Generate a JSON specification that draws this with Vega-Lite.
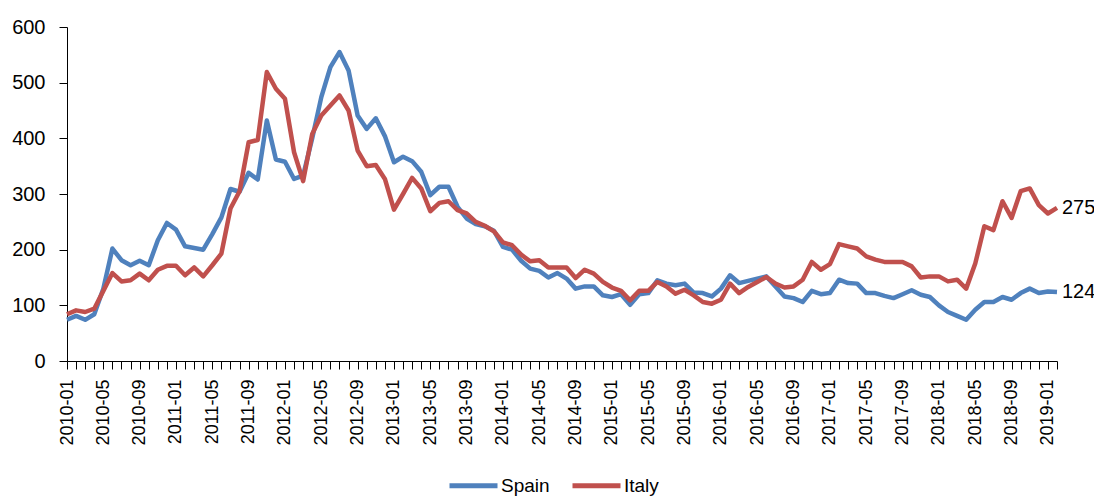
{
  "$schema": "https://vega.github.io/schema/vega-lite/v6.json",
  "autosize": {"type": "none"},
  "padding": {"left": 67, "top": 27, "right": 37, "bottom": 135},
  "width": 990,
  "height": 334,
  "background": "white",
  "config": {
    "view": {"stroke": null},
    "font": "Liberation Sans",
    "axis": {"domainColor": "black", "tickColor": "black", "labelColor": "black", "grid": false, "title": null}
  },
  "data": {"values": [
    {"date":"2010-01","Spain":74,"Italy":84},{"date":"2010-02","Spain":81,"Italy":91},{"date":"2010-03","Spain":74,"Italy":88},{"date":"2010-04","Spain":84,"Italy":94},
    {"date":"2010-05","Spain":130,"Italy":126},{"date":"2010-06","Spain":202,"Italy":158},{"date":"2010-07","Spain":181,"Italy":143},{"date":"2010-08","Spain":172,"Italy":145},
    {"date":"2010-09","Spain":180,"Italy":157},{"date":"2010-10","Spain":172,"Italy":145},{"date":"2010-11","Spain":217,"Italy":164},{"date":"2010-12","Spain":248,"Italy":171},
    {"date":"2011-01","Spain":236,"Italy":171},{"date":"2011-02","Spain":206,"Italy":154},{"date":"2011-03","Spain":203,"Italy":168},{"date":"2011-04","Spain":200,"Italy":152},
    {"date":"2011-05","Spain":228,"Italy":172},{"date":"2011-06","Spain":258,"Italy":193},{"date":"2011-07","Spain":309,"Italy":274},{"date":"2011-08","Spain":304,"Italy":305},
    {"date":"2011-09","Spain":338,"Italy":393},{"date":"2011-10","Spain":326,"Italy":397},{"date":"2011-11","Spain":432,"Italy":519},{"date":"2011-12","Spain":362,"Italy":489},
    {"date":"2012-01","Spain":358,"Italy":471},{"date":"2012-02","Spain":327,"Italy":375},{"date":"2012-03","Spain":333,"Italy":323},{"date":"2012-04","Spain":400,"Italy":408},
    {"date":"2012-05","Spain":474,"Italy":441},{"date":"2012-06","Spain":528,"Italy":459},{"date":"2012-07","Spain":555,"Italy":477},{"date":"2012-08","Spain":522,"Italy":450},
    {"date":"2012-09","Spain":441,"Italy":378},{"date":"2012-10","Spain":417,"Italy":350},{"date":"2012-11","Spain":436,"Italy":352},{"date":"2012-12","Spain":404,"Italy":327},
    {"date":"2013-01","Spain":357,"Italy":272},{"date":"2013-02","Spain":367,"Italy":300},{"date":"2013-03","Spain":359,"Italy":329},{"date":"2013-04","Spain":340,"Italy":310},
    {"date":"2013-05","Spain":298,"Italy":269},{"date":"2013-06","Spain":313,"Italy":284},{"date":"2013-07","Spain":313,"Italy":287},{"date":"2013-08","Spain":277,"Italy":271},
    {"date":"2013-09","Spain":256,"Italy":265},{"date":"2013-10","Spain":246,"Italy":250},{"date":"2013-11","Spain":242,"Italy":243},{"date":"2013-12","Spain":234,"Italy":233},
    {"date":"2014-01","Spain":205,"Italy":213},{"date":"2014-02","Spain":200,"Italy":208},{"date":"2014-03","Spain":180,"Italy":191},{"date":"2014-04","Spain":166,"Italy":179},
    {"date":"2014-05","Spain":162,"Italy":181},{"date":"2014-06","Spain":150,"Italy":168},{"date":"2014-07","Spain":158,"Italy":168},{"date":"2014-08","Spain":148,"Italy":168},
    {"date":"2014-09","Spain":130,"Italy":149},{"date":"2014-10","Spain":134,"Italy":164},{"date":"2014-11","Spain":134,"Italy":157},{"date":"2014-12","Spain":118,"Italy":142},
    {"date":"2015-01","Spain":115,"Italy":132},{"date":"2015-02","Spain":120,"Italy":126},{"date":"2015-03","Spain":101,"Italy":109},{"date":"2015-04","Spain":120,"Italy":126},
    {"date":"2015-05","Spain":122,"Italy":126},{"date":"2015-06","Spain":145,"Italy":142},{"date":"2015-07","Spain":139,"Italy":134},{"date":"2015-08","Spain":136,"Italy":121},
    {"date":"2015-09","Spain":139,"Italy":128},{"date":"2015-10","Spain":123,"Italy":118},{"date":"2015-11","Spain":122,"Italy":106},{"date":"2015-12","Spain":116,"Italy":103},
    {"date":"2016-01","Spain":130,"Italy":110},{"date":"2016-02","Spain":154,"Italy":139},{"date":"2016-03","Spain":140,"Italy":122},{"date":"2016-04","Spain":144,"Italy":133},
    {"date":"2016-05","Spain":148,"Italy":142},{"date":"2016-06","Spain":152,"Italy":151},{"date":"2016-07","Spain":134,"Italy":139},{"date":"2016-08","Spain":116,"Italy":132},
    {"date":"2016-09","Spain":113,"Italy":134},{"date":"2016-10","Spain":106,"Italy":146},{"date":"2016-11","Spain":126,"Italy":178},{"date":"2016-12","Spain":120,"Italy":164},
    {"date":"2017-01","Spain":122,"Italy":174},{"date":"2017-02","Spain":146,"Italy":210},{"date":"2017-03","Spain":140,"Italy":206},{"date":"2017-04","Spain":139,"Italy":202},
    {"date":"2017-05","Spain":122,"Italy":188},{"date":"2017-06","Spain":122,"Italy":182},{"date":"2017-07","Spain":117,"Italy":178},{"date":"2017-08","Spain":113,"Italy":178},
    {"date":"2017-09","Spain":120,"Italy":178},{"date":"2017-10","Spain":127,"Italy":170},{"date":"2017-11","Spain":119,"Italy":150},{"date":"2017-12","Spain":115,"Italy":152},
    {"date":"2018-01","Spain":100,"Italy":152},{"date":"2018-02","Spain":88,"Italy":143},{"date":"2018-03","Spain":81,"Italy":146},{"date":"2018-04","Spain":74,"Italy":130},
    {"date":"2018-05","Spain":92,"Italy":175},{"date":"2018-06","Spain":106,"Italy":242},{"date":"2018-07","Spain":106,"Italy":235},{"date":"2018-08","Spain":115,"Italy":287},
    {"date":"2018-09","Spain":110,"Italy":257},{"date":"2018-10","Spain":122,"Italy":305},{"date":"2018-11","Spain":130,"Italy":310},{"date":"2018-12","Spain":122,"Italy":280},
    {"date":"2019-01","Spain":125,"Italy":265},{"date":"2019-02","Spain":124,"Italy":275}
  ]},
  "transform": [{"fold": ["Spain", "Italy"], "as": ["country", "value"]}],
  "encoding": {
    "x": {
      "field": "date", "type": "ordinal",
      "scale": {"type": "point", "padding": 0},
      "axis": {
        "labelAngle": -90, "labelAlign": "right", "labelBaseline": "middle",
        "labelFontSize": 18, "labelFont": "Liberation Sans",
        "tickSize": 8, "labelPadding": 10, "labelOverlap": false, "labelFlush": false,
        "labelExpr": "indexof(['01','05','09'], substring(datum.label, 5, 7)) >= 0 ? datum.label : ''"
      }
    },
    "y": {
      "field": "value", "type": "quantitative",
      "scale": {"domain": [0, 600], "nice": false},
      "axis": {"values": [0,100,200,300,400,500,600], "tickSize": 8, "labelPadding": 14, "labelFontSize": 20, "labelFont": "Liberation Sans", "format": "d"}
    }
  },
  "layer": [
    {
      "mark": {"type": "line", "strokeWidth": 4.5, "strokeJoin": "round"},
      "encoding": {
        "color": {
          "field": "country", "type": "nominal",
          "scale": {"domain": ["Spain", "Italy"], "range": ["#4F81BD", "#C0504D"]},
          "legend": {
            "title": null, "orient": "none", "direction": "horizontal",
            "legendX": 380, "legendY": 432,
            "symbolType": "stroke", "symbolSize": 2304, "symbolStrokeWidth": 5,
            "labelFontSize": 19, "labelFont": "Liberation Sans", "labelColor": "black",
            "labelOffset": 1, "columnPadding": 12
          }
        }
      }
    },
    {
      "transform": [{"filter": "datum.date == '2019-02'"}],
      "mark": {"type": "text", "align": "left", "baseline": "middle", "dx": 5, "fontSize": 20, "font": "Liberation Sans", "color": "black"},
      "encoding": {"text": {"field": "value", "type": "quantitative", "format": "d"}}
    }
  ]
}
